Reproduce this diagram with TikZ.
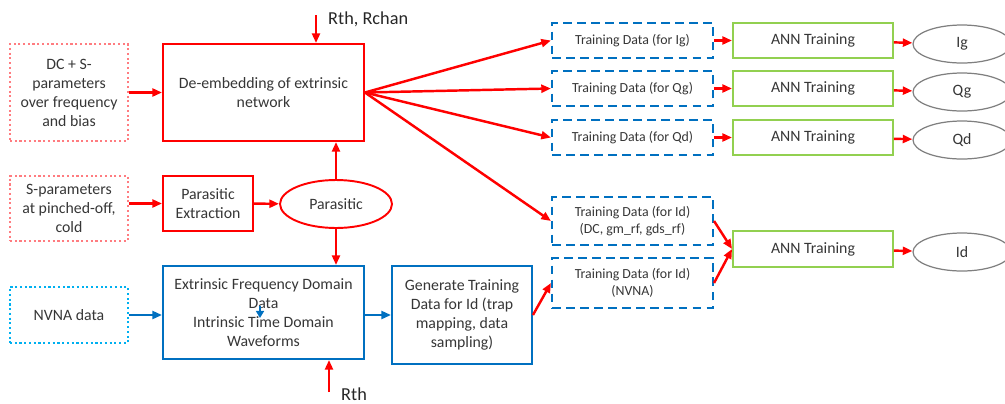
\documentclass[tikz,border=0pt]{standalone}
\usepackage{fontspec}
\setmainfont{Carlito}
\usetikzlibrary{arrows.meta,shapes.geometric}

\definecolor{flowred}{HTML}{FF0000}
\definecolor{softred}{HTML}{FF7C80}
\definecolor{flowblue}{HTML}{0070C0}
\definecolor{skyblue}{HTML}{00B0F0}
\definecolor{anngreen}{HTML}{92D050}
\definecolor{outgray}{HTML}{7F7F7F}
\definecolor{textgray}{HTML}{363636}

\begin{document}
\begin{tikzpicture}[
        x=0.02cm, y=-0.02cm,
        every node/.style={text=textgray, font=\fontsize{9}{10.8}\selectfont},
        inbox/.style={draw, dash pattern=on 1.2pt off 1.5pt, line width=0.7pt, minimum width=2.36cm, align=center, inner sep=1pt},
        redbox/.style={draw=flowred, line width=1.1pt, align=center, inner sep=2pt},
        bluebox/.style={draw=flowblue, line width=1.1pt, align=center, inner sep=2pt},
        databox/.style={draw=flowblue, dash pattern=on 5pt off 3pt, line width=1.2pt, minimum width=3.22cm, align=center, inner sep=1pt, font=\fontsize{7.9}{9.6}\selectfont},
        annbox/.style={draw=anngreen, line width=1.1pt, minimum width=3.2cm, minimum height=0.7cm, align=center},
        outnode/.style={draw=outgray, ellipse, line width=0.7pt, minimum width=1.96cm, minimum height=0.76cm},
        arrow/.style={-{Triangle[length=5.5pt,width=4.5pt]}, line width=1.4pt},
        label/.style={font=\fontsize{10.4}{12}\selectfont, anchor=west, text=black!85}
    ]
        \useasboundingbox (0,0) rectangle (1005,403);

        % Input data
        \node[inbox, draw=softred, minimum height=1.94cm] (dcin) at (69,92.5) {DC + S-\\parameters\\over frequency\\and bias};
        \node[inbox, draw=softred, minimum height=1.3cm] (spin) at (69,208.5) {S-parameters\\at pinched-off,\\cold};
        \node[inbox, draw=skyblue, minimum height=1.12cm] (nvna) at (69,315) {NVNA data};

        % Extraction chain
        \node[redbox, minimum width=4.02cm, minimum height=1.94cm] (deemb) at (263.5,92.5) {De-embedding of extrinsic\\network};
        \node[redbox, minimum width=1.8cm, minimum height=1.1cm] (parex) at (208,203.5) {Parasitic\\Extraction};
        \node[redbox, ellipse, minimum width=2.24cm, minimum height=0.96cm] (paras) at (336,204) {Parasitic};
        \node[bluebox, minimum width=4.02cm, minimum height=1.86cm] (extr) at (263.5,312.5) {Extrinsic Frequency Domain\\Data\\Intrinsic Time Domain\\Waveforms};
        \node[bluebox, minimum width=2.8cm, minimum height=1.96cm] (gen) at (462,315) {Generate Training\\Data for Id (trap\\mapping, data\\sampling)};

        % Training data
        \node[databox, minimum height=0.7cm] (tdig) at (632.5,40.5) {Training Data (for Ig)};
        \node[databox, minimum height=0.7cm] (tdqg) at (632.5,88.5) {Training Data (for Qg)};
        \node[databox, minimum height=0.7cm] (tdqd) at (632.5,137.5) {Training Data (for Qd)};
        \node[databox, minimum height=0.96cm] (tdidc) at (632.5,221) {Training Data (for Id)\\(DC, gm\_rf, gds\_rf)};
        \node[databox, minimum height=1cm] (tdidn) at (632.5,283) {Training Data (for Id)\\(NVNA)};

        % ANN training
        \node[annbox] (annig) at (813,40.5) {ANN Training};
        \node[annbox] (annqg) at (813,88.5) {ANN Training};
        \node[annbox] (annqd) at (813,137.5) {ANN Training};
        \node[annbox, minimum height=0.72cm] (annid) at (813,249) {ANN Training};

        % Models
        \node[outnode] (outig) at (962,44) {Ig};
        \node[outnode] (outqg) at (962,92) {Qg};
        \node[outnode] (outqd) at (962,140) {Qd};
        \node[outnode] (outid) at (962,252) {Id};

        % Thermal inputs
        \coordinate (rtop) at (316,15);
        \coordinate (rbot) at (329,392);
        \node[label] (rchan) at (322,19) {Rth, Rchan};
        \node[label] (rth) at (335,394) {Rth};
        \coordinate (inup) at (260,306);
        \coordinate (indown) at (260,318);

        % Red arrows
        \begin{scope}[draw=flowred, arrow]
            \draw (dcin) -- (deemb);
            \draw (spin.east |- parex.west) -- (parex.west);
            \draw (parex) -- (paras);
            \draw (paras.north) -- (paras.north |- deemb.south);
            \draw (paras.south) -- (paras.south |- extr.north);
            \draw (rtop) -- (rtop |- deemb.north);
            \draw (rbot) -- (rbot |- extr.south);
            \draw (deemb.east) -- (tdig.west);
            \draw (deemb.east) -- (tdqg.west);
            \draw (deemb.east) -- (tdqd.west);
            \draw (deemb.east) -- (tdidc.west);
            \draw (gen.east) -- (tdidn.west);
            \draw (tdig) -- (annig);
            \draw (tdqg) -- (annqg);
            \draw (tdqd) -- (annqd);
            \draw (tdidc.east) -- (annid.west);
            \draw (tdidn.east) -- (annid.west);
            \draw (annig) -- (outig);
            \draw (annqg) -- (outqg);
            \draw (annqd) -- (outqd);
            \draw (annid) -- (outid);
        \end{scope}

        % Blue arrows
        \draw[draw=flowblue, arrow] (nvna) -- (extr.west |- nvna);
        \draw[draw=flowblue, arrow] (extr.east |- gen.west) -- (gen.west);
        \draw[draw=flowblue, -{Triangle[length=4pt,width=4.5pt]}, line width=1pt] (inup) -- (indown);
\end{tikzpicture}
\end{document}
